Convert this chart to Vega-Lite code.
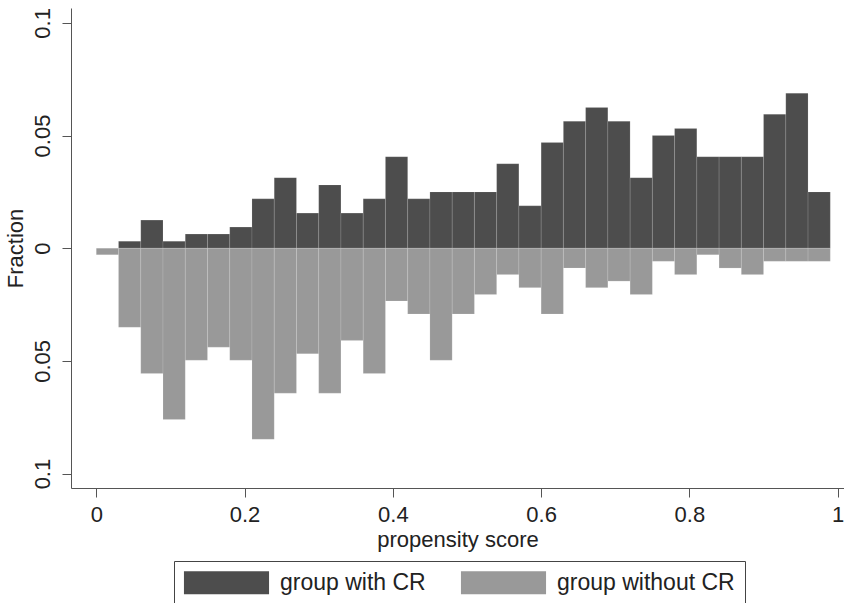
{
  "$schema": "https://vega.github.io/schema/vega-lite/v6.json",
  "width": 773,
  "height": 480,
  "autosize": {"type": "none"},
  "padding": {"left": 71, "top": 8, "right": 0, "bottom": 115},
  "background": "#ffffff",
  "config": {
    "view": {"stroke": null},
    "font": "Liberation Sans",
    "axis": {
      "grid": false,
      "domainColor": "#555555",
      "tickColor": "#555555",
      "labelColor": "#222222",
      "titleColor": "#222222",
      "labelFont": "Liberation Sans",
      "titleFont": "Liberation Sans",
      "labelFontSize": 22,
      "titleFontSize": 22,
      "titleFontWeight": "normal",
      "tickSize": 9,
      "labelFlush": false
    }
  },
  "data": {
    "values": [
      {"group": "group with CR", "start": 0.00, "end": 0.03, "fraction": 0},
      {"group": "group with CR", "start": 0.03, "end": 0.06, "fraction": 0.0031},
      {"group": "group with CR", "start": 0.06, "end": 0.09, "fraction": 0.0125},
      {"group": "group with CR", "start": 0.09, "end": 0.12, "fraction": 0.0031},
      {"group": "group with CR", "start": 0.12, "end": 0.15, "fraction": 0.0063},
      {"group": "group with CR", "start": 0.15, "end": 0.18, "fraction": 0.0063},
      {"group": "group with CR", "start": 0.18, "end": 0.21, "fraction": 0.0094},
      {"group": "group with CR", "start": 0.21, "end": 0.24, "fraction": 0.0219},
      {"group": "group with CR", "start": 0.24, "end": 0.27, "fraction": 0.0313},
      {"group": "group with CR", "start": 0.27, "end": 0.30, "fraction": 0.0156},
      {"group": "group with CR", "start": 0.30, "end": 0.33, "fraction": 0.0281},
      {"group": "group with CR", "start": 0.33, "end": 0.36, "fraction": 0.0156},
      {"group": "group with CR", "start": 0.36, "end": 0.39, "fraction": 0.0219},
      {"group": "group with CR", "start": 0.39, "end": 0.42, "fraction": 0.0406},
      {"group": "group with CR", "start": 0.42, "end": 0.45, "fraction": 0.0219},
      {"group": "group with CR", "start": 0.45, "end": 0.48, "fraction": 0.025},
      {"group": "group with CR", "start": 0.48, "end": 0.51, "fraction": 0.025},
      {"group": "group with CR", "start": 0.51, "end": 0.54, "fraction": 0.025},
      {"group": "group with CR", "start": 0.54, "end": 0.57, "fraction": 0.0375},
      {"group": "group with CR", "start": 0.57, "end": 0.60, "fraction": 0.0188},
      {"group": "group with CR", "start": 0.60, "end": 0.63, "fraction": 0.0469},
      {"group": "group with CR", "start": 0.63, "end": 0.66, "fraction": 0.0563},
      {"group": "group with CR", "start": 0.66, "end": 0.69, "fraction": 0.0625},
      {"group": "group with CR", "start": 0.69, "end": 0.72, "fraction": 0.0563},
      {"group": "group with CR", "start": 0.72, "end": 0.75, "fraction": 0.0313},
      {"group": "group with CR", "start": 0.75, "end": 0.78, "fraction": 0.05},
      {"group": "group with CR", "start": 0.78, "end": 0.81, "fraction": 0.0531},
      {"group": "group with CR", "start": 0.81, "end": 0.84, "fraction": 0.0406},
      {"group": "group with CR", "start": 0.84, "end": 0.87, "fraction": 0.0406},
      {"group": "group with CR", "start": 0.87, "end": 0.90, "fraction": 0.0406},
      {"group": "group with CR", "start": 0.90, "end": 0.93, "fraction": 0.0594},
      {"group": "group with CR", "start": 0.93, "end": 0.96, "fraction": 0.0688},
      {"group": "group with CR", "start": 0.96, "end": 0.99, "fraction": 0.025},
      {"group": "group without CR", "start": 0.00, "end": 0.03, "fraction": -0.0029},
      {"group": "group without CR", "start": 0.03, "end": 0.06, "fraction": -0.0351},
      {"group": "group without CR", "start": 0.06, "end": 0.09, "fraction": -0.0556},
      {"group": "group without CR", "start": 0.09, "end": 0.12, "fraction": -0.076},
      {"group": "group without CR", "start": 0.12, "end": 0.15, "fraction": -0.0497},
      {"group": "group without CR", "start": 0.15, "end": 0.18, "fraction": -0.0439},
      {"group": "group without CR", "start": 0.18, "end": 0.21, "fraction": -0.0497},
      {"group": "group without CR", "start": 0.21, "end": 0.24, "fraction": -0.0848},
      {"group": "group without CR", "start": 0.24, "end": 0.27, "fraction": -0.0643},
      {"group": "group without CR", "start": 0.27, "end": 0.30, "fraction": -0.0468},
      {"group": "group without CR", "start": 0.30, "end": 0.33, "fraction": -0.0643},
      {"group": "group without CR", "start": 0.33, "end": 0.36, "fraction": -0.0409},
      {"group": "group without CR", "start": 0.36, "end": 0.39, "fraction": -0.0556},
      {"group": "group without CR", "start": 0.39, "end": 0.42, "fraction": -0.0234},
      {"group": "group without CR", "start": 0.42, "end": 0.45, "fraction": -0.0292},
      {"group": "group without CR", "start": 0.45, "end": 0.48, "fraction": -0.0497},
      {"group": "group without CR", "start": 0.48, "end": 0.51, "fraction": -0.0292},
      {"group": "group without CR", "start": 0.51, "end": 0.54, "fraction": -0.0205},
      {"group": "group without CR", "start": 0.54, "end": 0.57, "fraction": -0.0117},
      {"group": "group without CR", "start": 0.57, "end": 0.60, "fraction": -0.0175},
      {"group": "group without CR", "start": 0.60, "end": 0.63, "fraction": -0.0292},
      {"group": "group without CR", "start": 0.63, "end": 0.66, "fraction": -0.0088},
      {"group": "group without CR", "start": 0.66, "end": 0.69, "fraction": -0.0175},
      {"group": "group without CR", "start": 0.69, "end": 0.72, "fraction": -0.0146},
      {"group": "group without CR", "start": 0.72, "end": 0.75, "fraction": -0.0205},
      {"group": "group without CR", "start": 0.75, "end": 0.78, "fraction": -0.0058},
      {"group": "group without CR", "start": 0.78, "end": 0.81, "fraction": -0.0117},
      {"group": "group without CR", "start": 0.81, "end": 0.84, "fraction": -0.0029},
      {"group": "group without CR", "start": 0.84, "end": 0.87, "fraction": -0.0088},
      {"group": "group without CR", "start": 0.87, "end": 0.90, "fraction": -0.0117},
      {"group": "group without CR", "start": 0.90, "end": 0.93, "fraction": -0.0058},
      {"group": "group without CR", "start": 0.93, "end": 0.96, "fraction": -0.0058},
      {"group": "group without CR", "start": 0.96, "end": 0.99, "fraction": -0.0058}
    ]
  },
  "mark": {"type": "bar", "stroke": "#ffffff", "strokeOpacity": 0.12, "strokeWidth": 1},
  "encoding": {
    "x": {
      "field": "start",
      "type": "quantitative",
      "scale": {"domain": [-0.0341, 1.0085], "nice": false, "zero": false},
      "axis": {
        "values": [0, 0.2, 0.4, 0.6, 0.8, 1],
        "format": "~g",
        "title": "propensity score",
        "labelPadding": 7,
        "titlePadding": 4
      }
    },
    "x2": {"field": "end"},
    "y": {
      "field": "fraction",
      "type": "quantitative",
      "stack": null,
      "scale": {"domain": [-0.1064, 0.1066], "nice": false, "zero": false},
      "axis": {
        "values": [-0.1, -0.05, 0, 0.05, 0.1],
        "labelExpr": "format(abs(datum.value), '~g')",
        "labelAngle": -90,
        "labelAlign": "center",
        "labelBaseline": "bottom",
        "labelPadding": 8,
        "title": "Fraction",
        "titlePadding": 4
      }
    },
    "y2": {"datum": 0},
    "color": {
      "field": "group",
      "type": "nominal",
      "scale": {"domain": ["group with CR", "group without CR"], "range": ["#4d4d4d", "#999999"]},
      "legend": {
        "title": null,
        "orient": "none",
        "direction": "horizontal",
        "legendX": 103,
        "legendY": 553,
        "padding": 10,
        "strokeColor": "#444444",
        "fillColor": "#ffffff",
        "symbolType": "M-3.7,-1H3.7V1H-3.7Z",
        "symbolSize": 529,
        "symbolOffset": 31,
        "symbolStrokeWidth": 0,
        "symbolOpacity": 1,
        "labelFontSize": 23,
        "labelFont": "Liberation Sans",
        "labelColor": "#222222",
        "labelOffset": 42,
        "columnPadding": 34,
        "labelLimit": 400
      }
    }
  }
}
